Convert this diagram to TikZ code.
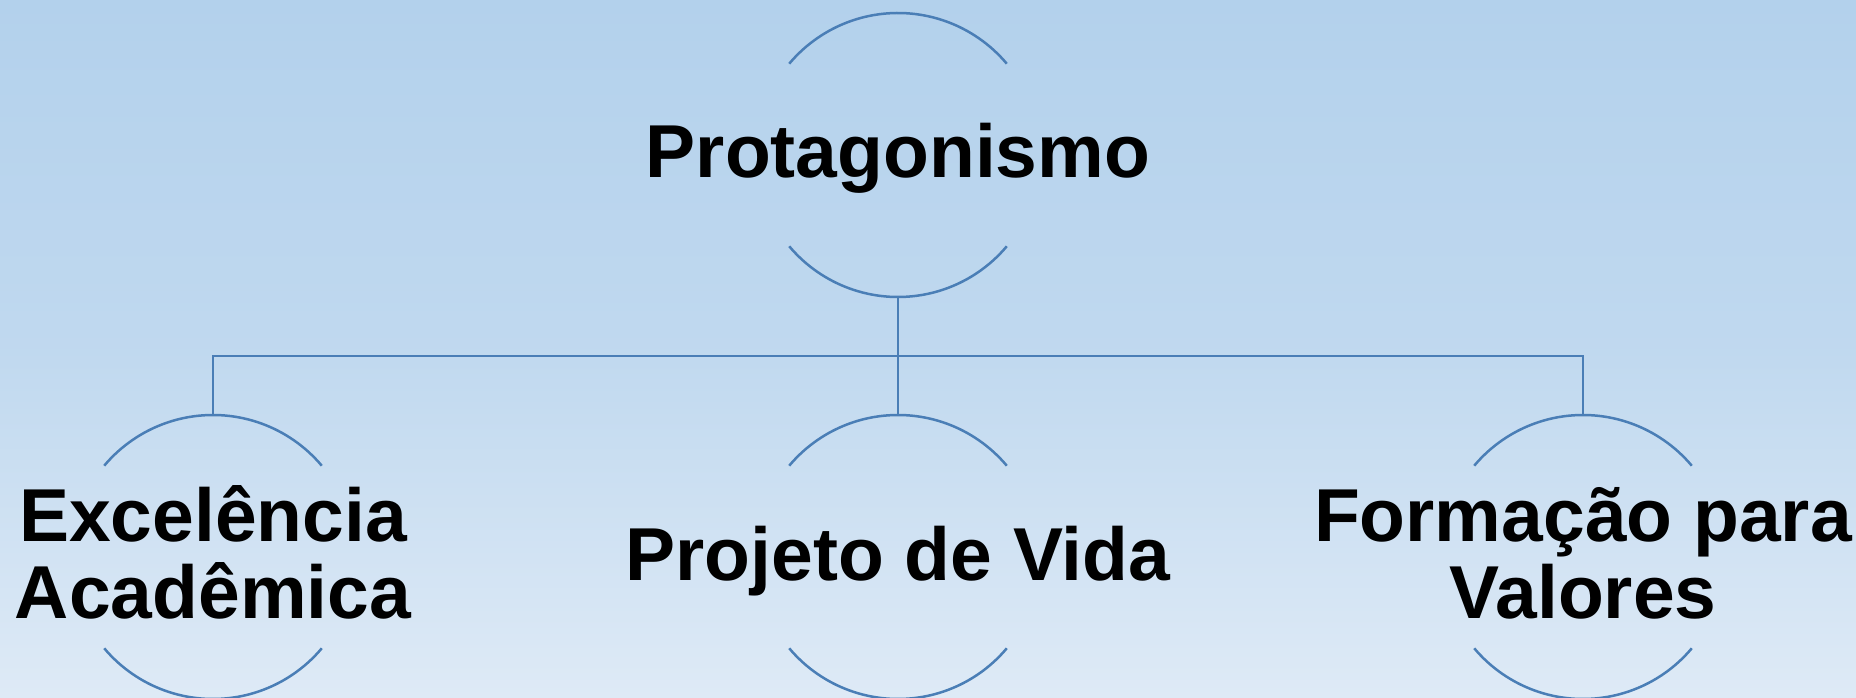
\documentclass[tikz,border=0pt]{standalone}
\usepackage{fontspec}
\setmainfont{Liberation Sans}
\usepackage{tikz}
\definecolor{bgtop}{HTML}{B3D1EC}
\definecolor{bgbottom}{HTML}{DEEAF6}
\definecolor{ringblue}{HTML}{4A7EB6}
\tikzstyle{ring}=[circle, minimum size=284pt, inner sep=0pt, outer sep=0pt]
\tikzstyle{caption}=[align=center, inner sep=0pt,
  font=\bfseries\fontsize{75}{77}\selectfont, text height=54pt, text depth=8pt]
\tikzstyle{twoline}=[caption, text height=131pt]
\tikzstyle{link}=[ringblue, line width=2.5pt]
\newcommand{\ringarcs}[1]{
  \draw[link] (#1.40) arc[start angle=40, end angle=140, radius=142pt];
  \draw[link] (#1.220) arc[start angle=220, end angle=320, radius=142pt];
}

\begin{document}
\begin{tikzpicture}[x=1pt,y=1pt]
            \useasboundingbox (0,0) rectangle (1856,697);
            \fill[top color=bgtop, bottom color=bgbottom, middle color=bgtop!70!bgbottom] (0,0) rectangle (1856,697);
            \node[ring, label={[caption]center:Protagonismo}] (prot) at (898,542){};
            \node[ring, label={[twoline]center:Excelência\\Acadêmica}] (exc) at (213,140){};
            \node[ring, label={[caption]center:Projeto de Vida}] (proj) at (898,140){};
            \node[ring, label={[twoline]center:Formação para\\Valores}] (form) at (1583,140){};
            \coordinate (hub) at (898,341);
            \ringarcs{prot}
            \ringarcs{exc}
            \ringarcs{proj}
            \ringarcs{form}
            \draw[link] (prot.south) -- (hub);
            \draw[link] (hub) -| (exc.north);
            \draw[link] (hub) -- (proj.north);
            \draw[link] (hub) -| (form.north);
\end{tikzpicture}
\end{document}
